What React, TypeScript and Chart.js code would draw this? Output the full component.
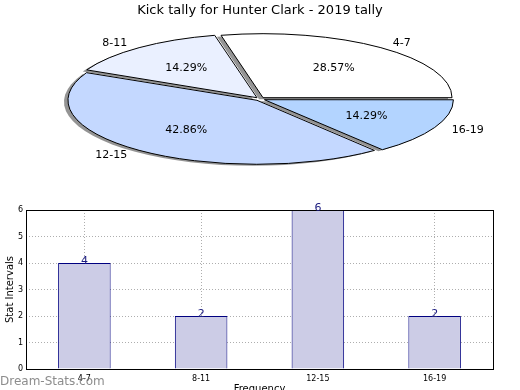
import React, { useEffect, useRef } from 'react';
import { Chart, registerables } from 'chart.js';

Chart.register(...registerables);

// ---------- data ----------
const TITLE = 'Kick tally for Hunter Clark - 2019 tally';
const categories = ['4-7', '8-11', '12-15', '16-19'];
const counts = [4, 2, 6, 2];
const pieColors = ['#FFFFFF', '#EAF0FF', '#C4D8FF', '#B3D4FF'];
const X_TITLE = 'Frequency';
const Y_TITLE = 'Stat Intervals';
const Y_MIN = 0;
const Y_MAX = 6;
const Y_STEP = 1;
const WATERMARK = 'Dream-Stats.com';

// ---------- styling / layout ----------
const FONT = "'DejaVu Sans', 'Liberation Sans', sans-serif";
const PIE_CX = 260;
const PIE_CY = 99;
const PIE_RX = 189;
const PIE_RY = 64;
const PIE_OFFSET = 18;

// Chart.js draws clockwise; matplotlib draws counter-clockwise from east.
const pieLabels = [...categories].reverse();
const pieValues = [...counts].reverse();
const pieBg = [...pieColors].reverse();
const total = counts.reduce((a, b) => a + b, 0);

const pieSquash: any = {
  id: 'pieSquash',
  afterDatasetsUpdate(chart: any) {
    const meta = chart.getDatasetMeta(0);
    const base = meta.controller.outerRadius;
    meta.data.forEach((arc: any) => {
      const circ = arc.circumference || 0;
      const fix = 1 - Math.sin(Math.min(Math.PI, circ));
      arc.outerRadius = base - (PIE_OFFSET / 4) * fix;
    });
  },
  beforeDatasetsDraw(chart: any) {
    const meta = chart.getDatasetMeta(0);
    const arc = meta.data[0];
    const r = meta.controller.outerRadius;
    const ctx = chart.ctx;
    const baseT = ctx.getTransform();
    ctx.save();
    ctx.translate(PIE_CX, PIE_CY);
    ctx.scale(PIE_RX / r, PIE_RY / r);
    ctx.translate(-arc.x, -arc.y);
    ctx.shadowColor = 'rgba(0,0,0,0.42)';
    ctx.shadowOffsetX = -4;
    ctx.shadowOffsetY = 1.5;
    ctx.shadowBlur = 0;
    const proto = Object.getPrototypeOf(ctx);
    ctx.stroke = function (...args: any[]) {
      this.save();
      this.setTransform(baseT);
      this.shadowColor = 'rgba(0,0,0,0)';
      proto.stroke.apply(this, args);
      this.restore();
    };
  },
  afterDatasetsDraw(chart: any) {
    const ctx = chart.ctx;
    delete ctx.stroke;
    ctx.restore();
    const meta = chart.getDatasetMeta(0);
    const r = meta.controller.outerRadius;
    const sx = PIE_RX / r;
    const sy = PIE_RY / r;
    const off = PIE_OFFSET / 4;
    ctx.save();
    ctx.fillStyle = '#000';
    ctx.font = `11px ${FONT}`;
    ctx.textBaseline = 'middle';
    meta.data.forEach((arc: any, i: number) => {
      const mid = (arc.startAngle + arc.endAngle) / 2;
      const c = Math.cos(mid);
      const s = Math.sin(mid);
      const px = (k: number) => PIE_CX + (off + k * r) * c * sx;
      const py = (k: number) => PIE_CY + (off + k * r) * s * sy;
      ctx.textAlign = c > 0 ? 'left' : 'right';
      ctx.fillText(pieLabels[i], px(1.1), py(1.1));
      ctx.textAlign = 'center';
      const pct = ((pieValues[i] / total) * 100).toFixed(2) + '%';
      ctx.fillText(pct, px(0.6), py(0.6));
    });
    ctx.restore();
  },
};

const barDecor: any = {
  id: 'barDecor',
  afterDraw(chart: any) {
    const { ctx, chartArea: a } = chart;
    ctx.save();
    ctx.strokeStyle = '#000';
    ctx.lineWidth = 1;
    ctx.strokeRect(
      Math.round(a.left) + 0.5,
      Math.round(a.top) + 0.5,
      Math.round(a.right - a.left),
      Math.round(a.bottom - a.top)
    );
    const meta = chart.getDatasetMeta(0);
    ctx.fillStyle = '#1c1c80';
    ctx.font = `11px ${FONT}`;
    ctx.textAlign = 'center';
    ctx.textBaseline = 'alphabetic';
    meta.data.forEach((bar: any, i: number) => {
      ctx.fillText(String(counts[i]), bar.x, bar.y + 1);
    });
    ctx.fillStyle = 'rgba(120,120,120,0.85)';
    ctx.font = `12px ${FONT}`;
    ctx.textAlign = 'left';
    ctx.textBaseline = 'middle';
    ctx.fillText(WATERMARK, 0, chart.height - 13);
    ctx.restore();
  },
};

export default function App() {
  const pieRef = useRef<HTMLCanvasElement>(null);
  const barRef = useRef<HTMLCanvasElement>(null);

  useEffect(() => {
    const gridColor = 'rgba(160,160,160,0.85)';
    const pie = new Chart(pieRef.current as HTMLCanvasElement, {
      type: 'pie',
      data: {
        labels: pieLabels,
        datasets: [
          {
            data: pieValues,
            backgroundColor: pieBg,
            borderColor: '#000',
            borderWidth: 1,
            offset: PIE_OFFSET,
            clip: false,
          } as any,
        ],
      },
      options: {
        animation: false,
        responsive: false,
        events: [],
        rotation: 90,
        plugins: {
          legend: { display: false },
          tooltip: { enabled: false },
          title: {
            display: true,
            text: TITLE,
            color: '#000',
            font: { family: FONT, size: 13, weight: 'normal' as any },
            padding: { top: 3, bottom: 4 },
          },
        },
      } as any,
      plugins: [pieSquash],
    });

    const bar = new Chart(barRef.current as HTMLCanvasElement, {
      type: 'bar',
      data: {
        labels: categories,
        datasets: [
          {
            data: counts,
            backgroundColor: '#CCCCE6',
            borderColor: '#000080',
            borderWidth: 1,
            barPercentage: 0.45,
            categoryPercentage: 1,
          },
        ],
      },
      options: {
        animation: false,
        responsive: false,
        events: [],
        layout: { padding: { top: 15, right: 27, left: 0, bottom: 0 } },
        plugins: { legend: { display: false }, tooltip: { enabled: false } },
        scales: {
          x: {
            z: 1,
            grid: { color: gridColor, drawTicks: false, lineWidth: 1, offset: false },
            border: { display: false, dash: [1, 2] },
            ticks: {
              color: '#000',
              font: { family: FONT, size: 8 },
              padding: 5,
              maxRotation: 0,
              autoSkip: false,
            },
            title: {
              display: true,
              text: X_TITLE,
              color: '#000',
              font: { family: FONT, size: 10 },
              padding: { top: 0, bottom: 0 },
            },
            afterFit: (s: any) => {
              s.height = 26;
            },
          },
          y: {
            z: 1,
            min: Y_MIN,
            max: Y_MAX,
            grid: { color: gridColor, drawTicks: false, lineWidth: 1 },
            border: { display: false, dash: [1, 2] },
            ticks: {
              stepSize: Y_STEP,
              color: '#000',
              font: { family: FONT, size: 8 },
              padding: 3,
            },
            title: {
              display: true,
              text: Y_TITLE,
              color: '#000',
              font: { family: FONT, size: 10 },
              padding: { top: 4, bottom: 4 },
            },
            afterFit: (s: any) => {
              s.width = 26;
            },
          },
        },
      } as any,
      plugins: [barDecor],
    });

    return () => {
      pie.destroy();
      bar.destroy();
    };
  }, []);

  return (
    <div
      style={{
        position: 'fixed',
        left: 0,
        top: 0,
        width: 520,
        height: 390,
        overflow: 'hidden',
        background: '#fff',
      }}
    >
      <canvas
        ref={pieRef}
        width={520}
        height={390}
        style={{ position: 'absolute', left: 0, top: 0 }}
      />
      <canvas
        ref={barRef}
        width={520}
        height={200}
        style={{ position: 'absolute', left: 0, top: 195 }}
      />
    </div>
  );
}
